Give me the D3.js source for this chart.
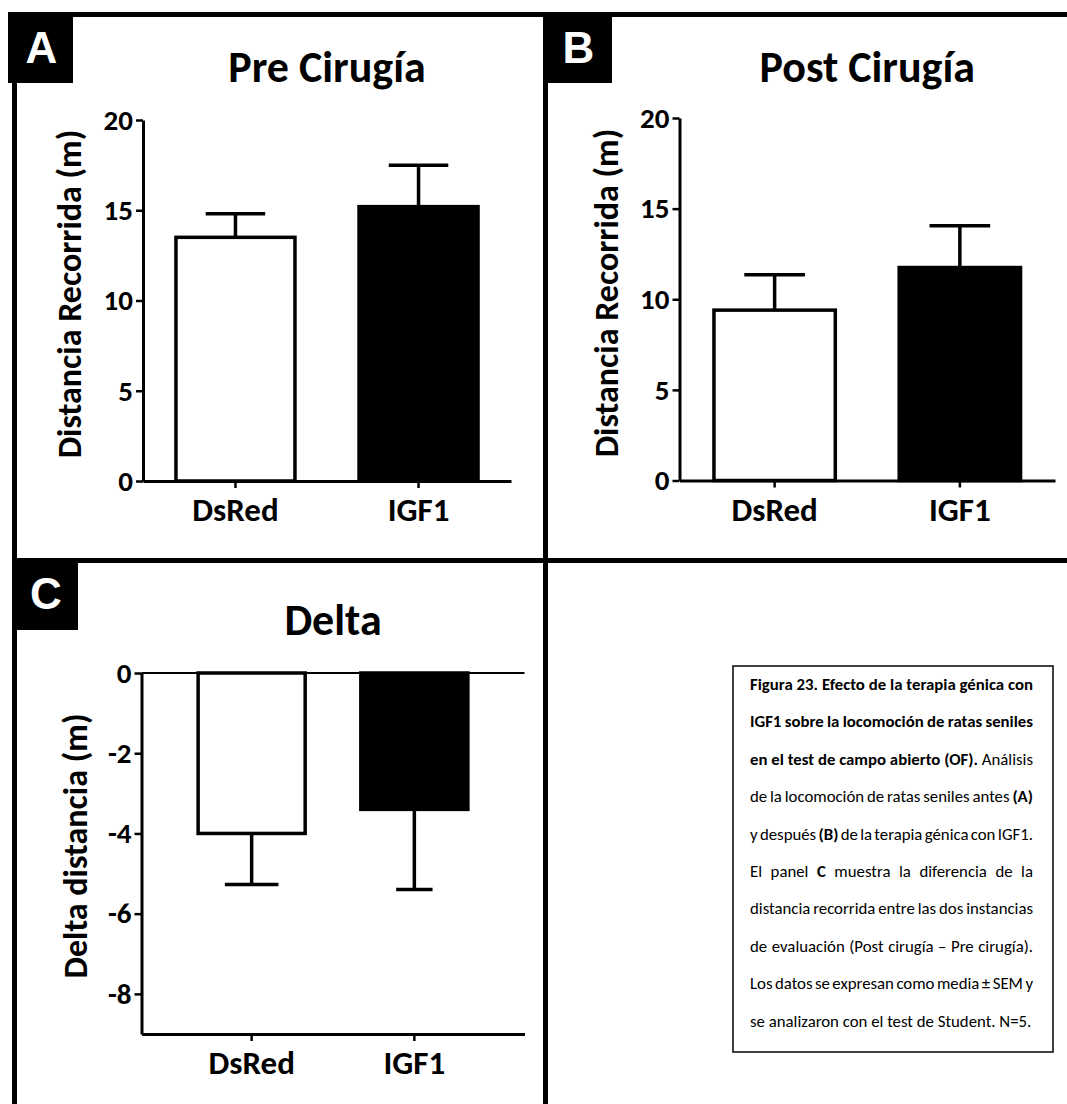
<!DOCTYPE html>
<html>
<head>
<meta charset="utf-8">
<script src="https://cdn.jsdelivr.net/npm/d3@7"></script>
<style>
  body { margin: 0; background: #fff; }
  svg { display: block; }
</style>
</head>
<body>
<script>
// ---------------- DATA ----------------
const categories = ["DsRed", "IGF1"];
const preMean  = [13.5, 15.2];
const preSem   = [1.3, 2.3];
const postMean = [9.4, 11.75];
const postSem  = [1.95, 2.3];
const deltaMean = [-4.0, -3.4];
const deltaSem  = [1.27, 2.0];
const distTicks  = [0, 5, 10, 15, 20];
const deltaTicks = [0, -2, -4, -6, -8];
const panelLetters = ["A", "B", "C"];
const panelTitles = ["Pre Cirugía", "Post Cirugía", "Delta"];
const yLabels = ["Distancia Recorrida (m)", "Distancia Recorrida (m)", "Delta distancia (m)"];
const captionLines = [
  [["Figura 23. Efecto de la terapia génica con", true]],
  [["IGF1 sobre la locomoción de ratas seniles", true]],
  [["en el test de campo abierto (OF).", true], [" Análisis", false]],
  [["de la locomoción de ratas seniles antes ", false], ["(A)", true]],
  [["y después ", false], ["(B)", true], [" de la terapia génica con IGF1.", false]],
  [["El panel ", false], ["C", true], [" muestra la diferencia de la", false]],
  [["distancia recorrida entre las dos instancias", false]],
  [["de evaluación (Post cirugía – Pre cirugía).", false]],
  [["Los datos se expresan como media ± SEM y", false]],
  [["se analizaron con el test de Student. N=5.", false]]
];

// ---------------- STYLE / LAYOUT ----------------
const W = 1067, H = 1104;
const FONT = "Carlito, Calibri, Lato, 'Open Sans', sans-serif";
const barFills = ["#ffffff", "#000000"];

const svg = d3.select("body").append("svg")
  .attr("width", W).attr("height", H)
  .attr("font-family", FONT);

// frame lines
const frame = svg.append("g").attr("fill", "#000");
frame.append("rect").attr("x", 8).attr("y", 12).attr("width", W - 8).attr("height", 5);
frame.append("rect").attr("x", 12).attr("y", 12).attr("width", 5).attr("height", H - 12);
frame.append("rect").attr("x", 543).attr("y", 12).attr("width", 5).attr("height", H - 12);
frame.append("rect").attr("x", 12).attr("y", 558).attr("width", W - 12).attr("height", 5);

// letter boxes
const letterBoxes = [
  {x: 8, y: 12, w: 65, h: 71},
  {x: 543, y: 12, w: 69, h: 71},
  {x: 12, y: 558, w: 66, h: 72}
];
letterBoxes.forEach((b, i) => {
  svg.append("rect").attr("x", b.x).attr("y", b.y).attr("width", b.w).attr("height", b.h).attr("fill", "#000");
  svg.append("text")
    .attr("x", b.x + b.w / 2 + 1).attr("y", b.y + 51)
    .attr("text-anchor", "middle")
    .attr("font-family", "'Liberation Sans', Arial, sans-serif")
    .attr("font-weight", "bold").attr("font-size", 44)
    .attr("fill", "#fff")
    .text(panelLetters[i]);
});

const panels = [
  {mean: preMean, sem: preSem, domain: [0, 20], ticks: distTicks,
   x0: 143, x1: 511, yTop: 120, yBot: 481, pin: 0.35, pout: 0.18, cap: [0.5, 0.5],
   titleY: 82, ylx: 69, yly: 294},
  {mean: postMean, sem: postSem, domain: [0, 20], ticks: distTicks,
   x0: 679.5, x1: 1055, yTop: 118, yBot: 480.5, pin: 0.345, pout: 0.186, cap: [0.5, 0.5],
   titleY: 82, ylx: 606, yly: 293},
  {mean: deltaMean, sem: deltaSem, domain: [-9, 0], ticks: deltaTicks,
   x0: 141.5, x1: 524.5, yTop: 673, yBot: 1034, pin: 0.342, pout: 0.348, cap: [0.5, 0.34],
   titleY: 635, ylx: 75, yly: 846}
];

panels.forEach((p, pi) => {
  const g = svg.append("g");
  const x = d3.scaleBand().domain(categories).range([p.x0, p.x1])
    .paddingInner(p.pin).paddingOuter(p.pout);
  const y = d3.scaleLinear().domain(p.domain).range([p.yBot, p.yTop]);
  const bw = x.bandwidth();

  // zero line (for negative panel)
  if (p.domain[0] < 0) {
    g.append("line").attr("x1", p.x0).attr("x2", p.x1)
      .attr("y1", y(0)).attr("y2", y(0))
      .attr("stroke", "#000").attr("stroke-width", 2);
  }

  // bars
  g.selectAll("rect.bar").data(categories).join("rect").attr("class", "bar")
    .attr("x", d => x(d)).attr("width", bw)
    .attr("y", (d, i) => Math.min(y(p.mean[i]), y(0)))
    .attr("height", (d, i) => Math.abs(y(p.mean[i]) - y(0)))
    .attr("fill", (d, i) => barFills[i])
    .attr("stroke", "#000").attr("stroke-width", 3.5);

  // error bars (one sided, away from zero)
  const errEnd = i => p.mean[i] + (p.mean[i] >= 0 ? 1 : -1) * p.sem[i];
  g.selectAll("line.err").data(categories).join("line").attr("class", "err")
    .attr("x1", d => x(d) + bw / 2).attr("x2", d => x(d) + bw / 2)
    .attr("y1", (d, i) => y(p.mean[i])).attr("y2", (d, i) => y(errEnd(i)))
    .attr("stroke", "#000").attr("stroke-width", 3.5);
  g.selectAll("line.cap").data(categories).join("line").attr("class", "cap")
    .attr("x1", (d, i) => x(d) + bw / 2 - p.cap[i] * bw / 2)
    .attr("x2", (d, i) => x(d) + bw / 2 + p.cap[i] * bw / 2)
    .attr("y1", (d, i) => y(errEnd(i))).attr("y2", (d, i) => y(errEnd(i)))
    .attr("stroke", "#000").attr("stroke-width", 3.5);

  // y axis
  const ya = g.append("g").attr("transform", `translate(${p.x0},0)`)
    .call(d3.axisLeft(y).tickValues(p.ticks).tickFormat(d => String(d))
      .tickSize(7).tickSizeOuter(0).tickPadding(3));
  // x axis
  const xa = g.append("g").attr("transform", `translate(0,${y(p.domain[0])})`)
    .call(d3.axisBottom(x).tickSize(7).tickSizeOuter(0).tickPadding(10));

  [ya, xa].forEach(a => {
    a.select(".domain").attr("stroke", "#000").attr("stroke-width", 3);
    a.selectAll(".tick line").attr("stroke", "#000").attr("stroke-width", 2.5);
    a.selectAll("text").attr("fill", "#000").attr("font-family", FONT).attr("font-weight", "bold");
  });
  ya.selectAll("text").attr("font-size", 29);
  xa.selectAll("text").attr("font-size", 33);

  // title
  g.append("text")
    .attr("x", (p.x0 + p.x1) / 2).attr("y", p.titleY)
    .attr("text-anchor", "middle").attr("font-weight", "bold").attr("font-size", 44)
    .text(panelTitles[pi]);

  // y label
  g.append("text")
    .attr("transform", `translate(${p.ylx},${p.yly}) rotate(-90)`)
    .attr("text-anchor", "middle").attr("dominant-baseline", "central")
    .attr("font-weight", "bold").attr("font-size", 34)
    .text(yLabels[pi]);
});

// ---------------- CAPTION ----------------
const box = {x: 733, y: 666, w: 320, h: 386};
svg.append("rect").attr("x", box.x).attr("y", box.y).attr("width", box.w).attr("height", box.h)
  .attr("fill", "none").attr("stroke", "#000").attr("stroke-width", 1.5);

const textX = 750, textW = 283, firstBase = 690, lineH = 37.4;
captionLines.forEach((segs, li) => {
  const t = svg.append("text")
    .attr("x", textX).attr("y", firstBase + li * lineH)
    .attr("font-size", 16.8).attr("fill", "#000")
    .style("white-space", "pre");
  segs.forEach(s => {
    t.append("tspan").attr("font-weight", s[1] ? "bold" : "normal").text(s[0]);
  });
  if (li < captionLines.length - 1) {
    const full = segs.map(s => s[0]).join("");
    const nSp = (full.match(/ /g) || []).length;
    const nat = t.node().getComputedTextLength();
    if (nSp > 0) t.attr("word-spacing", (textW - nat) / nSp);
  }
});
</script>
</body>
</html>
